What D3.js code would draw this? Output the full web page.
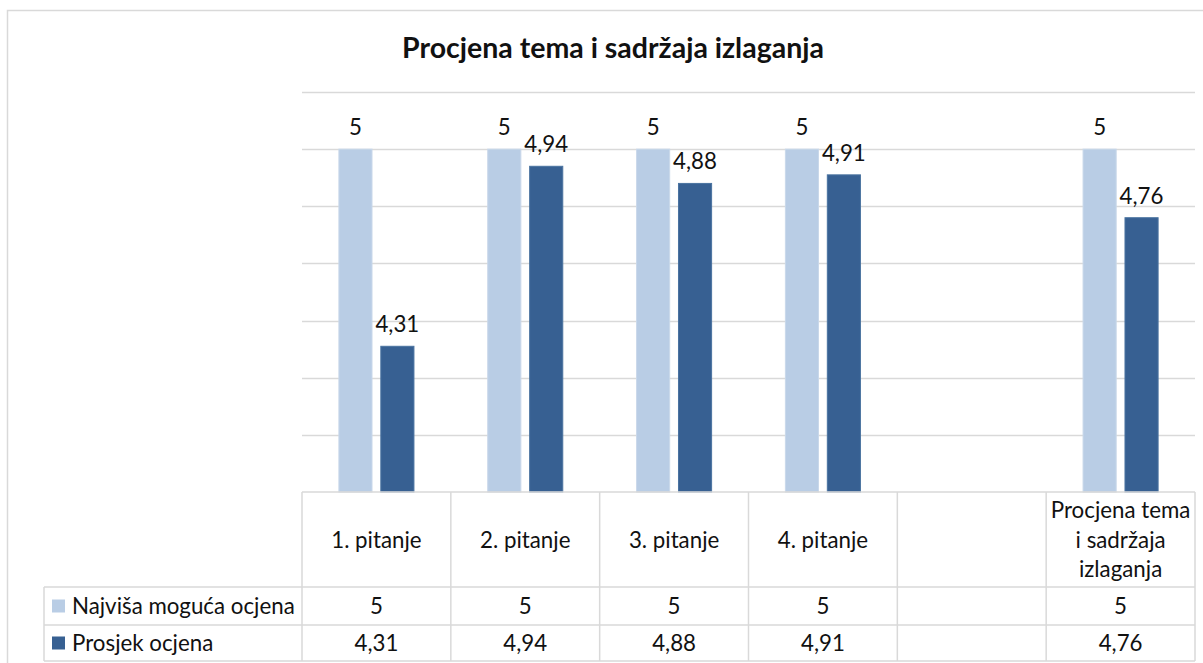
<!DOCTYPE html>
<html>
<head>
<meta charset="utf-8">
<script src="https://cdn.jsdelivr.net/npm/d3@7"></script>
<style>
  body { margin: 0; background: #fff; }
  text { font-family: Lato, "Open Sans", sans-serif; fill: #111; }
</style>
</head>
<body>
<div class="canvas"></div>
<script>
const categories = ["1. pitanje", "2. pitanje", "3. pitanje", "4. pitanje", "", "Procjena tema i sadržaja izlaganja"];
const seriesNames = ["Najviša moguća ocjena", "Prosjek ocjena"];
const najvisa = [5, 5, 5, 5, null, 5];
const prosjek = [4.31, 4.94, 4.88, 4.91, null, 4.76];
const colors = ["#b9cde5", "#376092"];
const title = "Procjena tema i sadržaja izlaganja";

const width = 1203;
const height = 663;
const plotLeft = 302;
const plotRight = 1195;
const plotTop = 92;
const plotBottom = 492;
const legendLeft = 44;
const rowTops = [492, 587, 625, 661];
const gridColor = "#d9d9d9";
const fontSize = 22.3;

const series = [najvisa, prosjek];
const locale = d3.formatLocale({decimal: ",", thousands: ".", grouping: [3], currency: ["", " kn"]});
const fmt = locale.format("~g");

const x = d3.scaleBand()
  .domain(d3.range(categories.length))
  .range([plotLeft, plotRight]);

const x1 = d3.scaleBand()
  .domain(d3.range(series.length))
  .range([0, x.bandwidth()])
  .paddingInner(0.21)
  .paddingOuter(0.88);

const y = d3.scaleLinear()
  .domain([3.8, 5.2])
  .range([plotBottom, plotTop]);

const svg = d3.select(".canvas").append("svg")
  .attr("width", width)
  .attr("height", height);

svg.append("rect")
  .attr("x", 7.5).attr("y", 10.5)
  .attr("width", width).attr("height", height)
  .attr("fill", "#fff")
  .attr("stroke", gridColor)
  .attr("stroke-width", 1.5);

svg.append("text")
  .attr("x", 613)
  .attr("y", 58)
  .attr("text-anchor", "middle")
  .style("font-size", "28.5px")
  .style("font-weight", "bold")
  .text(title);

// gridlines
svg.append("g")
  .selectAll("line")
  .data(y.ticks(7).filter(t => t > 3.8))
  .join("line")
    .attr("x1", plotLeft).attr("x2", plotRight)
    .attr("y1", d => Math.round(y(d)) + 0.5)
    .attr("y2", d => Math.round(y(d)) + 0.5)
    .attr("stroke", gridColor)
    .attr("stroke-width", 1.5);

// bars
const groups = svg.append("g")
  .selectAll("g")
  .data(categories.map((c, i) => i))
  .join("g")
    .attr("transform", i => "translate(" + x(i) + ",0)");

groups.selectAll("rect")
  .data(i => series.map((s, k) => ({k, v: s[i]})).filter(d => d.v != null))
  .join("rect")
    .attr("x", d => x1(d.k))
    .attr("y", d => y(d.v))
    .attr("width", x1.bandwidth())
    .attr("height", d => y(3.8) - y(d.v))
    .attr("fill", d => colors[d.k])
    .attr("stroke", d => d.k === 0 ? "#c9d8ea" : "#4a73a0")
    .attr("stroke-width", 1);

groups.selectAll("text")
  .data(i => series.map((s, k) => ({k, v: s[i]})).filter(d => d.v != null))
  .join("text")
    .attr("x", d => x1(d.k) + x1.bandwidth() / 2)
    .attr("y", d => y(d.v) - 14)
    .attr("text-anchor", "middle")
    .style("font-size", fontSize + "px")
    .text(d => fmt(d.v));

// data table
const table = svg.append("g")
  .attr("stroke", gridColor)
  .attr("stroke-width", 1.5);

table.append("line")
  .attr("x1", plotLeft).attr("x2", plotRight)
  .attr("y1", rowTops[0]).attr("y2", rowTops[0]);

table.selectAll(".hrow")
  .data(rowTops.slice(1))
  .join("line")
    .attr("class", "hrow")
    .attr("x1", legendLeft).attr("x2", plotRight)
    .attr("y1", d => d).attr("y2", d => d);

table.selectAll(".vcol")
  .data(d3.range(categories.length + 1))
  .join("line")
    .attr("class", "vcol")
    .attr("x1", i => i < categories.length ? x(i) : plotRight)
    .attr("x2", i => i < categories.length ? x(i) : plotRight)
    .attr("y1", rowTops[0]).attr("y2", rowTops[3]);

table.append("line")
  .attr("x1", legendLeft).attr("x2", legendLeft)
  .attr("y1", rowTops[1]).attr("y2", rowTops[3]);

// category labels, wrapped to the column width
const catLabels = svg.append("g")
  .selectAll("text")
  .data(categories.map((c, i) => ({c, i})))
  .join("text")
    .attr("x", d => x(d.i) + x.bandwidth() / 2)
    .attr("text-anchor", "middle")
    .style("font-size", fontSize + "px")
    .each(function(d) { wrap(d3.select(this), d.c, x.bandwidth() - 6); });

function wrap(text, str, maxWidth) {
  const words = str.split(/\s+/).filter(w => w);
  const lines = [];
  let line = [];
  const probe = text.append("tspan");
  words.forEach(w => {
    line.push(w);
    probe.text(line.join(" "));
    if (probe.node().getComputedTextLength() > maxWidth && line.length > 1) {
      line.pop();
      lines.push(line.join(" "));
      line = [w];
    }
  });
  if (line.length) lines.push(line.join(" "));
  probe.remove();
  const lh = 29.5;
  const mid = (rowTops[0] + rowTops[1]) / 2 + 8;
  lines.forEach((l, k) => {
    text.append("tspan")
      .attr("x", text.attr("x"))
      .attr("y", mid + (k - (lines.length - 1) / 2) * lh)
      .text(l);
  });
}

// value rows with legend keys
seriesNames.forEach((name, k) => {
  const cy = (rowTops[k + 1] + rowTops[k + 2]) / 2;
  svg.append("rect")
    .attr("x", 52).attr("y", cy - 6.5)
    .attr("width", 13).attr("height", 13)
    .attr("fill", colors[k]);
  svg.append("text")
    .attr("x", 72).attr("y", cy + 8)
    .style("font-size", fontSize + "px")
    .text(name);
  svg.append("g")
    .selectAll("text")
    .data(series[k].map((v, i) => ({v, i})).filter(d => d.v != null))
    .join("text")
      .attr("x", d => x(d.i) + x.bandwidth() / 2)
      .attr("y", cy + 8)
      .attr("text-anchor", "middle")
      .style("font-size", fontSize + "px")
      .text(d => fmt(d.v));
});
</script>
</body>
</html>
